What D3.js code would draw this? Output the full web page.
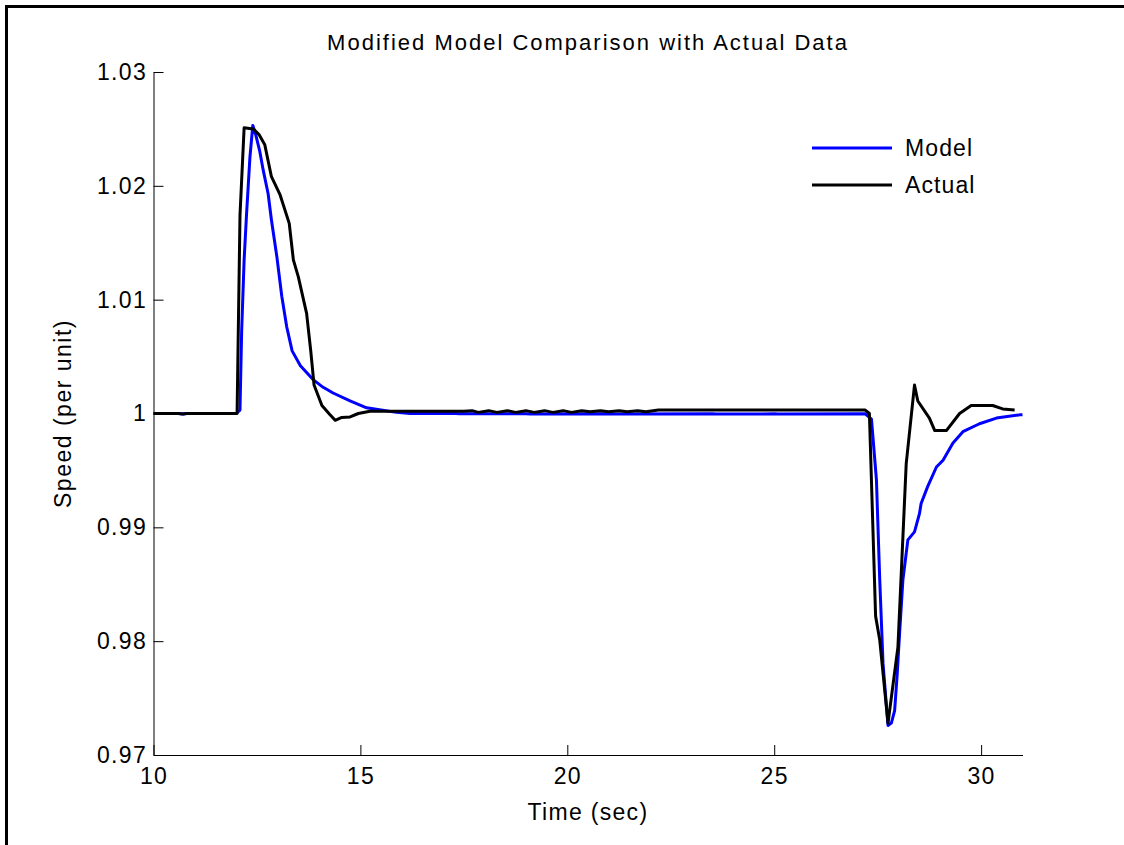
<!DOCTYPE html>
<html>
<head>
<meta charset="utf-8">
<script src="https://cdn.jsdelivr.net/npm/d3@7"></script>
<style>
  html, body { margin: 0; padding: 0; background: #fff; }
  svg { display: block; font-family: "Liberation Sans", Arial, Helvetica, sans-serif; }
</style>
</head>
<body>
<svg id="chart" width="1124" height="845"></svg>
<script>
// ---- Data ----
const modelTime = [10, 10.6, 10.71, 10.8, 12.0, 12.09, 12.13, 12.19, 12.25, 12.33, 12.4, 12.47, 12.57, 12.65, 12.77, 12.85, 12.98, 13.1, 13.22, 13.35, 13.55, 13.85, 14.1, 14.34, 14.75, 15.15, 15.5, 15.87, 16.2, 17.3, 17.4, 19.0, 19.1, 21.0, 21.1, 23.5, 23.6, 25.0, 25.1, 27.2, 27.35, 27.47, 27.55, 27.63, 27.75, 27.83, 27.91, 27.97, 28.03, 28.11, 28.23, 28.39, 28.51, 28.55, 28.71, 28.92, 29.08, 29.32, 29.56, 29.96, 30.37, 30.93, 31.0];
const modelSpeed = [1.0, 1.0, 0.99995, 1.0, 1.0, 1.0003, 1.0072, 1.0135, 1.0176, 1.0225, 1.0253, 1.0245, 1.023, 1.0214, 1.0193, 1.017, 1.0138, 1.0103, 1.0076, 1.0055, 1.0042, 1.003, 1.0023, 1.0018, 1.0011, 1.0005, 1.0003, 1.0001, 1.0, 1.0, 0.99997, 0.99997, 0.99995, 0.99997, 0.99995, 0.99997, 0.99995, 0.99997, 0.99995, 0.99997, 0.9995, 0.9942, 0.9854, 0.978, 0.9726, 0.9728, 0.9739, 0.977, 0.9807, 0.9854, 0.9889, 0.9896, 0.9912, 0.9921, 0.9936, 0.9953, 0.9959, 0.9974, 0.9984, 0.9991, 0.9996, 0.99988, 0.9999];

const actualTime = [10, 10.6, 10.71, 10.8, 12.02, 12.09, 12.19, 12.41, 12.55, 12.69, 12.85, 13.06, 13.28, 13.38, 13.5, 13.7, 13.8, 13.88, 14.07, 14.25, 14.39, 14.55, 14.75, 14.95, 15.23, 17.5, 17.7, 17.85, 18.1, 18.3, 18.55, 18.75, 19.0, 19.2, 19.45, 19.65, 19.9, 20.1, 20.35, 20.55, 20.8, 21.0, 21.25, 21.45, 21.7, 21.9, 22.2, 27.2, 27.3, 27.45, 27.55, 27.75, 27.99, 28.19, 28.39, 28.47, 28.75, 28.88, 29.16, 29.48, 29.76, 30.28, 30.52, 30.81];
const actualSpeed = [1.0, 1.0, 0.99995, 1.0, 1.0, 1.0174, 1.0251, 1.025, 1.0245, 1.0236, 1.0208, 1.0192, 1.0167, 1.0135, 1.012, 1.0088, 1.0055, 1.0025, 1.0007, 0.99995, 0.9994, 0.99965, 0.9997, 1.0, 1.0002, 1.0002, 1.00025, 1.0001, 1.00025, 1.0001, 1.00025, 1.0001, 1.00025, 1.0001, 1.00025, 1.0001, 1.00025, 1.0001, 1.00025, 1.00015, 1.00025, 1.00015, 1.00025, 1.00015, 1.00025, 1.00015, 1.0003, 1.0003, 1.0, 0.9822, 0.9801, 0.9728, 0.9795, 0.9956, 1.0025, 1.0011, 0.9996, 0.9985, 0.9985, 1.0, 1.0007, 1.0007, 1.0004, 1.0003];

const xTicks = [10, 15, 20, 25, 30];
const xTickLabels = ["10", "15", "20", "25", "30"];
const yTicks = [0.97, 0.98, 0.99, 1.0, 1.01, 1.02, 1.03];
const yTickLabels = ["0.97", "0.98", "0.99", "1", "1.01", "1.02", "1.03"];
const seriesNames = ["Model", "Actual"];
const seriesColors = ["#0000ff", "#000000"];

const titleText = "Modified Model Comparison with Actual Data";
const xLabelText = "Time (sec)";
const yLabelText = "Speed (per unit)";

// ---- Layout ----
const svg = d3.select("#chart");
const plotLeft = 153.5, plotRight = 1022.5, plotTop = 72, plotBottom = 755;

const x = d3.scaleLinear().domain([10, 31]).range([plotLeft, plotRight]);
const y = d3.scaleLinear().domain([0.97, 1.03]).range([plotBottom, plotTop]);

// outer frame (top and left only)
svg.append("path")
  .attr("d", "M6.5,845 V6.5 H1124")
  .attr("fill", "none").attr("stroke", "#000").attr("stroke-width", 3);

// axes
const xAxis = d3.axisBottom(x).tickValues(xTicks)
  .tickFormat((d, i) => xTickLabels[i]).tickSizeInner(-10).tickSizeOuter(0).tickPadding(13);
const yAxis = d3.axisLeft(y).tickValues(yTicks)
  .tickFormat((d, i) => yTickLabels[i]).tickSizeInner(-10).tickSizeOuter(0).tickPadding(6.5);

const gx = svg.append("g").attr("transform", `translate(0,${plotBottom})`).call(xAxis);
const gy = svg.append("g").attr("transform", `translate(${plotLeft},0)`).call(yAxis);
[gx, gy].forEach(g => {
  g.selectAll("path, line").attr("stroke", "#000").attr("stroke-width", 1);
  g.selectAll("text").attr("fill", "#000").style("font-size", "23px")
    .style("letter-spacing", "1.3px")
    .style("font-family", '"Liberation Sans", Arial, sans-serif');
});

// lines
const lineGen = d3.line().x(d => x(d[0])).y(d => y(d[1]));
const modelData = modelTime.map((t, i) => [t, modelSpeed[i]]);
const actualData = actualTime.map((t, i) => [t, actualSpeed[i]]);

svg.append("path").datum(modelData)
  .attr("d", lineGen).attr("fill", "none")
  .attr("stroke", seriesColors[0]).attr("stroke-width", 3).attr("stroke-linejoin", "round");
svg.append("path").datum(actualData)
  .attr("d", lineGen).attr("fill", "none")
  .attr("stroke", seriesColors[1]).attr("stroke-width", 3).attr("stroke-linejoin", "round");

// legend
const legendY = [148, 185];
seriesNames.forEach((name, i) => {
  svg.append("line").attr("x1", 812).attr("x2", 892)
    .attr("y1", legendY[i]).attr("y2", legendY[i])
    .attr("stroke", seriesColors[i]).attr("stroke-width", 3);
  svg.append("text").attr("x", 905).attr("y", legendY[i]).attr("dy", "0.35em")
    .style("font-size", "23px").style("letter-spacing", "1.1px").text(name);
});

// title and axis labels
svg.append("text").attr("x", (plotLeft + plotRight) / 2).attr("y", 50)
  .attr("text-anchor", "middle").style("font-size", "22px").style("letter-spacing", "2px").text(titleText);
svg.append("text").attr("x", (plotLeft + plotRight) / 2).attr("y", 820)
  .attr("text-anchor", "middle").style("font-size", "23px").style("letter-spacing", "1.3px").text(xLabelText);
svg.append("text").attr("transform", `translate(71,${(plotTop + plotBottom) / 2}) rotate(-90)`)
  .attr("text-anchor", "middle").style("font-size", "23px").style("letter-spacing", "1.5px").text(yLabelText);
</script>
</body>
</html>
